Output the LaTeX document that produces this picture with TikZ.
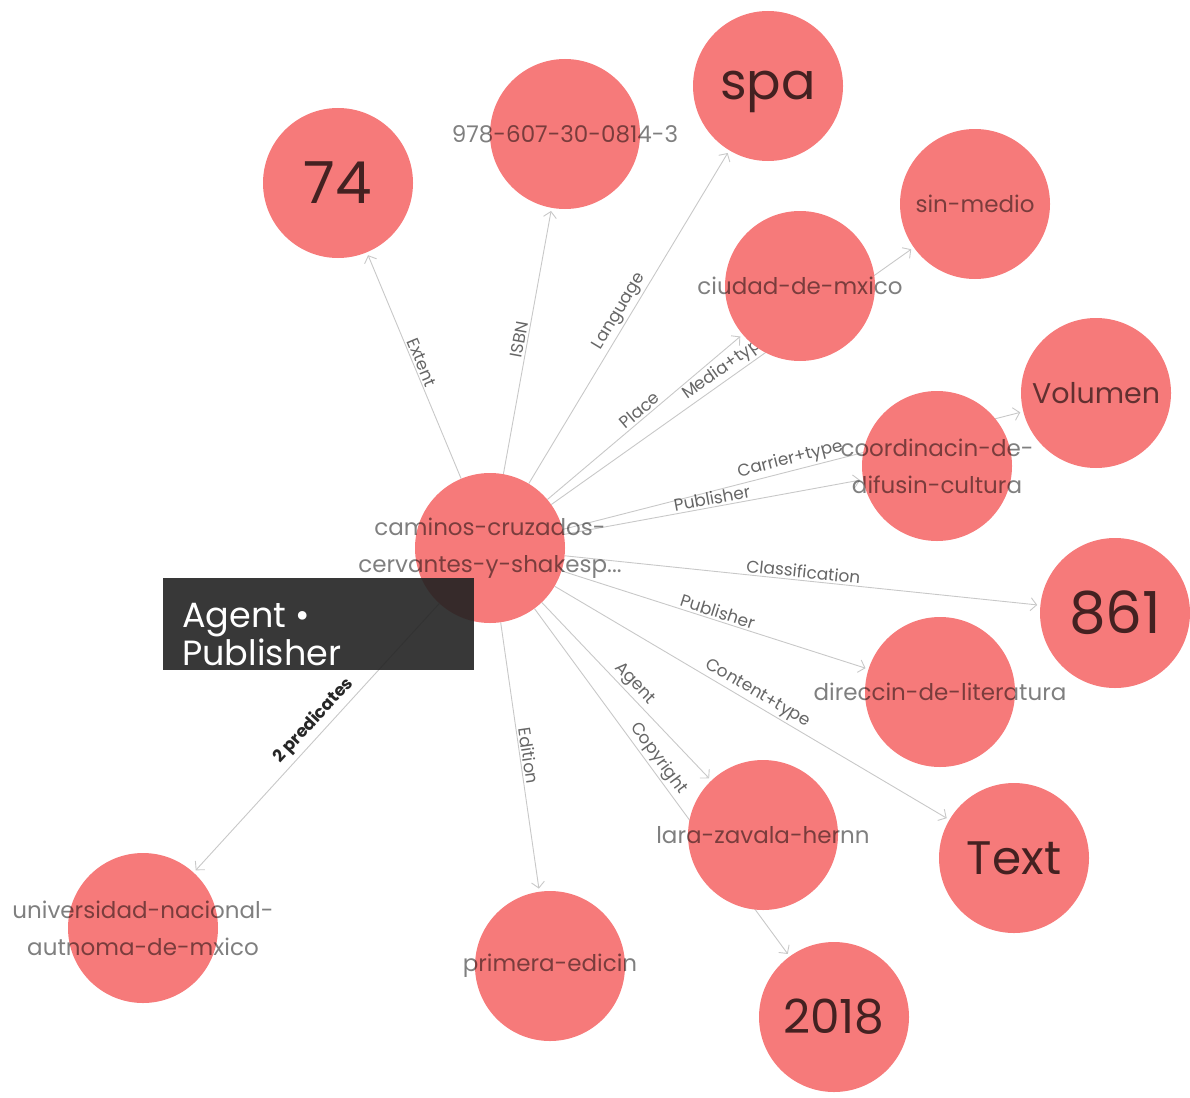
\documentclass[tikz,border=0pt]{standalone}
\usepackage{fontspec}
\setmainfont{Poppins}
\usetikzlibrary{arrows.meta}
\definecolor{nodered}{RGB}{246,122,122}
\definecolor{edgegrey}{RGB}{200,200,200}
\definecolor{tipbg}{RGB}{34,34,34}
\pgfdeclarelayer{bg}
\pgfsetlayers{bg,main}
\begin{document}
\begin{tikzpicture}[x=1pt,y=-1pt,
  ent/.style={circle, fill=nodered, draw=none, minimum size=150pt, inner sep=0pt},
  etxt/.style={inner sep=0pt, align=center, text=black, text opacity=0.5,
    font=\fontsize{23}{37}\selectfont},
  bignum/.style={font=\fontsize{58}{60}\selectfont, text opacity=0.72},
  spafont/.style={font=\fontsize{51}{60}\selectfont, text opacity=0.72},
  midnum/.style={font=\fontsize{47}{50}\selectfont, text opacity=0.72},
  midword/.style={font=\fontsize{28.5}{34}\selectfont, text opacity=0.6},
  link/.style={draw=edgegrey, line width=0.9pt, shorten >=3pt,
    -{Straight Barb[length=6pt,width=13pt,line width=0.9pt]}},
  elab/.style={sloped, above, inner sep=2pt, font=\fontsize{17}{19}\selectfont,
    text=black, text opacity=0.6},
  boldlab/.style={font=\bfseries\fontsize{17}{19}\selectfont, text opacity=0.85,
    inner sep=4pt},
  tipbox/.style={rectangle, fill=tipbg, fill opacity=0.9, draw=none,
    minimum width=311pt, minimum height=92pt, inner sep=0pt},
  tiptext/.style={anchor=base west, inner sep=0pt, text=white,
    font=\fontsize{35}{38}\selectfont},
]
\useasboundingbox (0,0) rectangle (1190,1097);

% entity circles with their texts
\node[ent] (c) at (490,548) {};
\node[etxt] (c-l) at (c) {caminos-cruzados-\\cervantes-y-shakesp...};
\node[ent] (n74) at (338,183) {};
\node[etxt, bignum] (n74-l) at (n74) {74};
\node[ent] (isbn) at (565,134) {};
\node[etxt] (isbn-l) at (isbn) {978-607-30-0814-3};
\node[ent] (spa) at (768,86) {};
\node[etxt, spafont] (spa-l) at (768,92) {spa};
\node[ent] (sinm) at (975,204) {};
\node[etxt] (sinm-l) at (sinm) {sin-medio};
\node[ent] (ciud) at (800,286) {};
\node[etxt] (ciud-l) at (ciud) {ciudad-de-mxico};
\node[ent] (vol) at (1096,393) {};
\node[etxt, midword] (vol-l) at (vol) {Volumen};
\node[ent] (coord) at (937,466) {};
\node[etxt] (coord-l) at (coord) {coordinacin-de-\\difusin-cultura};
\node[ent] (n861) at (1115,613) {};
\node[etxt, bignum] (n861-l) at (n861) {861};
\node[ent] (dir) at (940,692) {};
\node[etxt] (dir-l) at (dir) {direccin-de-literatura};
\node[ent] (txt) at (1014,858) {};
\node[etxt, midnum] (txt-l) at (txt) {Text};
\node[ent] (lara) at (763,835) {};
\node[etxt] (lara-l) at (lara) {lara-zavala-hernn};
\node[ent] (n2018) at (834,1017) {};
\node[etxt, midnum] (n2018-l) at (n2018) {2018};
\node[ent] (prim) at (550,966) {};
\node[etxt] (prim-l) at (prim) {primera-edicin};
\node[ent] (univ) at (143,928) {};
\node[etxt] (univ-l) at (univ) {universidad-nacional-\\autnoma-de-mxico};

% connectors
\begin{pgfonlayer}{bg}
\draw[link] (c) -- node[elab] (lExt) {Extent} (n74);
\draw[link] (c) -- node[elab] (lIsbn) {ISBN} (isbn);
\draw[link] (c) -- node[elab] (lLang) {Language} (spa);
\draw[link] (c) -- node[elab] (lPlace) {Place} (ciud);
\draw[link] (c) -- node[elab] (lMedia) {Media+type} (sinm);
\draw[link] (c) -- node[elab] (lCarr) {Carrier+type} (vol);
\draw[link] (c) -- node[elab] (lPub1) {Publisher} (coord);
\draw[link] (c) -- node[elab] (lClass) {Classification} (n861);
\draw[link] (c) -- node[elab] (lPub2) {Publisher} (dir);
\draw[link] (c) -- node[elab] (lCont) {Content+type} (txt);
\draw[link] (c) -- node[elab] (lAgent) {Agent} (lara);
\draw[link] (c) -- node[elab, pos=0.45] (lCopy) {Copyright} (n2018);
\draw[link] (c) -- node[elab] (lEd) {Edition} (prim);
\draw[link] (c) -- node[elab, boldlab, pos=0.47] (lPred) {2 predicates} (univ);
\end{pgfonlayer}

% tooltip
\node[tipbox] (tip) at (318.5,624) {};
\node[tiptext] (tip1) at (182,627) {Agent •};
\node[tiptext] (tip2) at (182,665) {Publisher};
\end{tikzpicture}
\end{document}
